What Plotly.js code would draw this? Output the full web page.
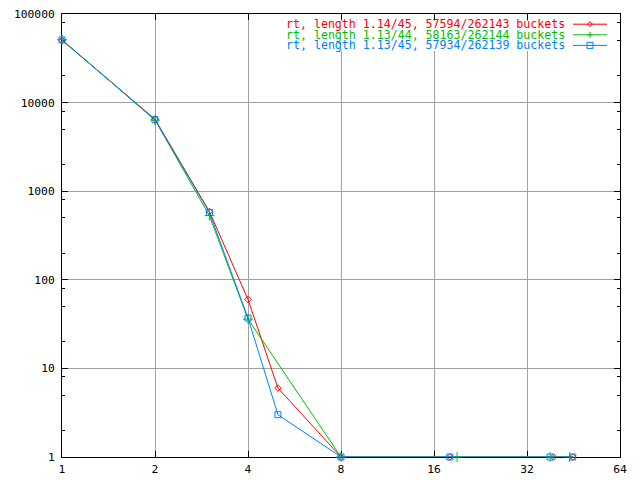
<!DOCTYPE html>
<html>
<head>
<meta charset="utf-8">
<script src="https://cdn.plot.ly/plotly-3.0.1.min.js"></script>
<style>html,body{margin:0;padding:0;background:#fff;}#chart{width:640px;height:480px;}</style>
</head>
<body>
<div id="chart"></div>
<script>
// chain length -> number of buckets
const xRed = [1, 2, 3, 4, 5, 8, 18, 39, 45];
const yRed = [50500, 6500, 590, 60, 6, 1, 1, 1, 1];
const xGreen = [1, 2, 3, 4, 8, 19, 38, 44];
const yGreen = [51300, 6350, 530, 36, 1, 1, 1, 1];
const xBlue = [1, 2, 3, 4, 5, 8, 18, 38, 45];
const yBlue = [50950, 6400, 575, 37, 3, 1, 1, 1, 1];

const seriesNames = [
  'rt, length 1.14/45, 57594/262143 buckets',
  'rt, length 1.13/44, 58163/262144 buckets',
  'rt, length 1.13/45, 57934/262139 buckets'
];
const seriesColors = ['#ff0000', '#00c000', '#0080ff'];

const xTickVals = [1, 2, 4, 8, 16, 32, 64];
const xTickText = ['1', '2', '4', '8', '16', '32', '64'];
const yTickVals = [1, 10, 100, 1000, 10000, 100000];
const yTickText = ['1', '10', '100', '1000', '10000', '100000'];
const yMinorVals = [2, 5, 8, 20, 50, 80, 200, 500, 800, 2000, 5000, 8000, 20000, 50000, 80000];

const FONT = 'DejaVu Sans Mono, Liberation Mono, monospace';

function tr(x, y, i, symbol, size) {
  return {
    x: x, y: y, type: 'scatter', mode: 'lines+markers', name: seriesNames[i],
    line: {color: seriesColors[i], width: 1},
    marker: {symbol: symbol, size: size, color: seriesColors[i], line: {color: seriesColors[i], width: 1}},
    cliponaxis: false, showlegend: false
  };
}

const data = [
  tr(xRed, yRed, 0, 'diamond-open', 5),
  tr(xGreen, yGreen, 1, 'cross-thin-open', 7),
  tr(xBlue, yBlue, 2, 'square-open', 6)
];

// legend drawn manually (text right-aligned, sample on the right like the original)
const W = 558, H = 443, L = 62, T = 14;
const px = v => (v - L) / W;
const py = v => (T + H - v) / H;
const rowsY = [24.2, 34.8, 45.4];
const annotations = [];
const shapes = [{type: 'rect', xref: 'paper', yref: 'paper', x0: px(280), x1: px(613), y0: py(51), y1: py(21),
  fillcolor: '#ffffff', line: {width: 0}, layer: 'above'}];
seriesNames.forEach((n, i) => {
  annotations.push({xref: 'paper', yref: 'paper', x: px(566), y: py(rowsY[i]), xanchor: 'right', yanchor: 'middle',
    text: n, showarrow: false, font: {family: FONT, size: 11.6, color: seriesColors[i]}, borderpad: 0});
  shapes.push({type: 'line', xref: 'paper', yref: 'paper', x0: px(573), x1: px(607), y0: py(rowsY[i]), y1: py(rowsY[i]),
    line: {color: seriesColors[i], width: 1}, layer: 'above'});
});
const mx = px(590);
// red diamond
shapes.push({type: 'path', xref: 'paper', yref: 'paper', xsizemode: 'pixel', ysizemode: 'pixel', xanchor: mx, yanchor: py(rowsY[0]),
  path: 'M -2.5 0 L 0 2.5 L 2.5 0 L 0 -2.5 Z', line: {color: seriesColors[0], width: 1}, layer: 'above'});
// green plus
shapes.push({type: 'path', xref: 'paper', yref: 'paper', xsizemode: 'pixel', ysizemode: 'pixel', xanchor: mx, yanchor: py(rowsY[1]),
  path: 'M -3 0 L 3 0 M 0 -3 L 0 3', line: {color: seriesColors[1], width: 1}, layer: 'above'});
// blue square
shapes.push({type: 'path', xref: 'paper', yref: 'paper', xsizemode: 'pixel', ysizemode: 'pixel', xanchor: mx, yanchor: py(rowsY[2]),
  path: 'M -3 -3 L 3 -3 L 3 3 L -3 3 Z', line: {color: seriesColors[2], width: 1}, layer: 'above'});

const axisCommon = {
  showline: true, linecolor: '#000', linewidth: 1, mirror: 'ticks',
  ticks: 'inside', ticklen: 6, tickwidth: 1, tickcolor: '#000',
  showgrid: true, gridcolor: '#a0a0a0', gridwidth: 1, zeroline: false,
  tickfont: {family: FONT, size: 11.3, color: '#000'}, layer: 'below traces'
};

const layout = {
  width: 640, height: 480,
  margin: {l: 62, r: 20, t: 14, b: 23, pad: 0},
  paper_bgcolor: '#fff', plot_bgcolor: '#fff',
  showlegend: false,
  xaxis: Object.assign({}, axisCommon, {
    type: 'log', range: [0, Math.log10(64)], tickmode: 'array', tickvals: xTickVals, ticktext: xTickText,
    ticklabelstandoff: 1
  }),
  yaxis: Object.assign({}, axisCommon, {
    type: 'log', range: [0, 5], tickmode: 'array', tickvals: yTickVals, ticktext: yTickText,
    ticklabelstandoff: 4,
    minor: {tickmode: 'array', tickvals: yMinorVals, ticks: 'inside', ticklen: 3, tickcolor: '#000', tickwidth: 1, showgrid: false}
  }),
  annotations: annotations,
  shapes: shapes
};

Plotly.newPlot('chart', data, layout, {staticPlot: true, displayModeBar: false});
</script>
</body>
</html>
